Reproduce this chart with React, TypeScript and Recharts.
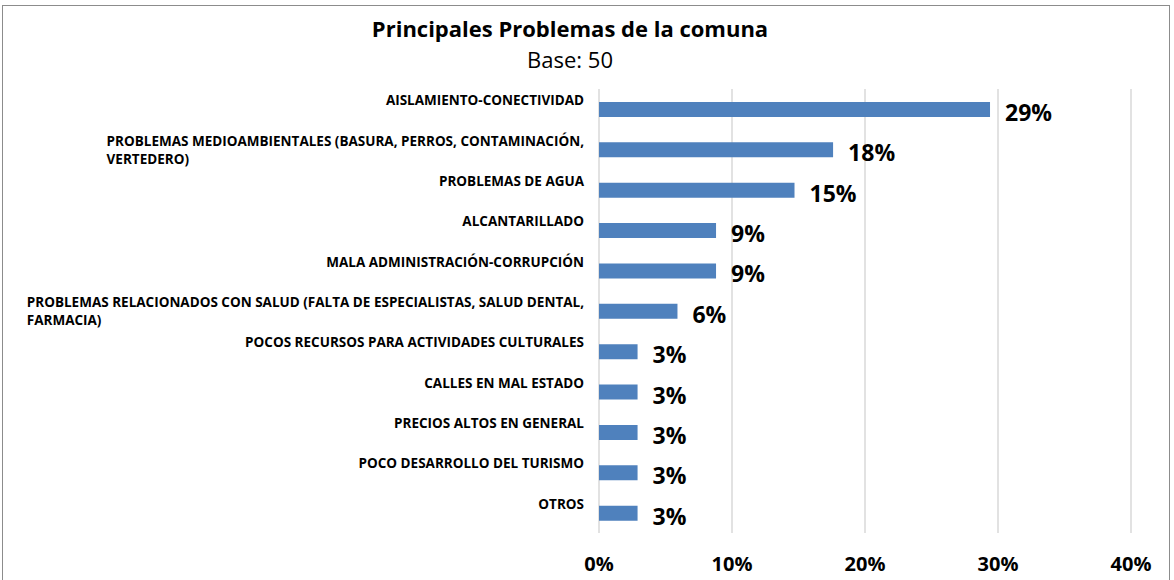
// Principales Problemas de la comuna (barras horizontales)
import { Bar, BarChart, CartesianGrid, LabelList, XAxis, YAxis } from "recharts";

const CATEGORIES = [
  "AISLAMIENTO-CONECTIVIDAD",
  "PROBLEMAS MEDIOAMBIENTALES (BASURA, PERROS, CONTAMINACIÓN,\nVERTEDERO)",
  "PROBLEMAS DE AGUA",
  "ALCANTARILLADO",
  "MALA ADMINISTRACIÓN-CORRUPCIÓN",
  "PROBLEMAS RELACIONADOS CON SALUD (FALTA DE ESPECIALISTAS, SALUD DENTAL,\nFARMACIA)",
  "POCOS RECURSOS PARA ACTIVIDADES CULTURALES",
  "CALLES EN MAL ESTADO",
  "PRECIOS ALTOS EN GENERAL",
  "POCO DESARROLLO DEL TURISMO",
  "OTROS",
];
const VALUES = [29.4, 17.6, 14.7, 8.8, 8.8, 5.9, 2.9, 2.9, 2.9, 2.9, 2.9];
const X_TICKS = [0, 10, 20, 30, 40];

const TITLE = "Principales Problemas de la comuna";
const SUBTITLE = "Base: 50";

const BAR = "#4f81bd";
const GRID = "#d9d9d9";
const FONT = "'Open Sans', sans-serif";
const LABEL_SIZE = 13.5;
const LABEL_FONT = `bold ${LABEL_SIZE}px 'Open Sans'`;

const data = CATEGORIES.map((name, i) => ({ name, value: VALUES[i] }));

let ctx: CanvasRenderingContext2D | null = null;
function textWidth(s: string): number {
  if (!ctx) ctx = document.createElement("canvas").getContext("2d");
  if (!ctx) return s.length * 8;
  ctx.font = LABEL_FONT;
  return ctx.measureText(s).width;
}

// 複数行ラベル: ブロックは右寄せ、行は左揃え
function CategoryTick(props: any) {
  const { x, y, payload } = props;
  const lines: string[] = String(payload.value).split("\n");
  const right = x - 7;
  const widest = Math.max(...lines.map(textWidth));
  const left = right - widest;
  return (
    <text
      fontFamily={FONT}
      fontSize={LABEL_SIZE}
      fontWeight="bold"
      fill="#000"
      dominantBaseline="central"
    >
      {lines.map((ln, i) => (
        <tspan
          key={i}
          x={lines.length > 1 ? left : right}
          y={y - 9 + i * 18}
          textAnchor={lines.length > 1 ? "start" : "end"}
        >
          {ln}
        </tspan>
      ))}
    </text>
  );
}

function ValueLabel(props: any) {
  const { x, y, width, height, value } = props;
  return (
    <text
      x={x + width + 15}
      y={y + height / 2 + 2.5}
      fontFamily={FONT}
      fontSize={23}
      fontWeight="bold"
      fill="#000"
      dominantBaseline="central"
    >
      {`${Math.round(value)}%`}
    </text>
  );
}

export default function App() {
  return (
    <div
      style={{
        position: "fixed",
        left: 0,
        top: 0,
        width: 1174,
        height: 580,
        background: "#fff",
        overflow: "hidden",
      }}
    >
      <div
        style={{
          position: "absolute",
          left: 2,
          top: 5,
          width: 1168,
          height: 620,
          border: "1.5px solid #8c8c8c",
          boxSizing: "border-box",
        }}
      />
      <div
        style={{
          position: "absolute",
          left: 0,
          top: 14,
          width: 1140,
          textAlign: "center",
          fontFamily: FONT,
          fontWeight: "bold",
          fontSize: 22,
          lineHeight: "28px",
          color: "#000",
        }}
      >
        {TITLE}
      </div>
      <div
        style={{
          position: "absolute",
          left: 0,
          top: 45,
          width: 1140,
          textAlign: "center",
          fontFamily: FONT,
          fontSize: 22,
          lineHeight: "28px",
          color: "#000",
        }}
      >
        {SUBTITLE}
      </div>
      <div style={{ position: "absolute", left: 0, top: 0 }}>
        <BarChart
          width={1174}
          height={580}
          data={data}
          layout="vertical"
          margin={{ top: 89, right: 43, bottom: 0, left: 0 }}
          barCategoryGap={0}
        >
          <CartesianGrid
            horizontal={false}
            stroke={GRID}
            strokeWidth={1.5}
          />
          <XAxis
            type="number"
            domain={[0, 40]}
            ticks={X_TICKS}
            tickFormatter={(v) => `${v}%`}
            height={47}
            axisLine={false}
            tickLine={false}
            tickMargin={18}
            tick={{ fill: "#000", fontSize: 20, fontWeight: "bold", fontFamily: FONT }}
          />
          <YAxis
            type="category"
            dataKey="name"
            width={599}
            axisLine={false}
            tickLine={false}
            interval={0}
            tick={<CategoryTick />}
          />
          <Bar dataKey="value" fill={BAR} barSize={15} isAnimationActive={false}>
            <LabelList dataKey="value" content={<ValueLabel />} />
          </Bar>
        </BarChart>
      </div>
    </div>
  );
}
